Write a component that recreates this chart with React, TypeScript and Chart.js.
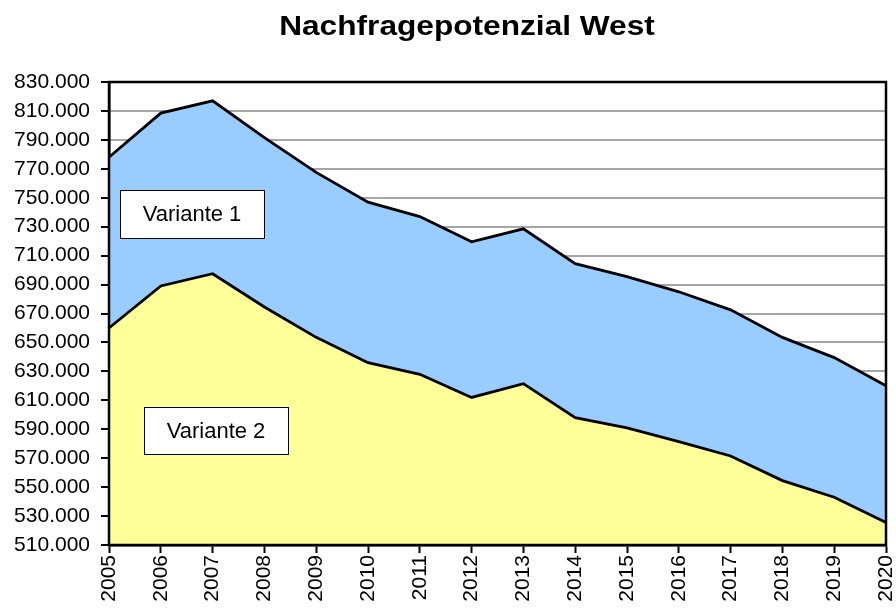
import React, { useEffect, useRef } from "react";
import { Chart, registerables } from "chart.js";

Chart.register(...registerables);

const TITLE = "Nachfragepotenzial West";
const YEARS = ["2005","2006","2007","2008","2009","2010","2011","2012","2013","2014","2015","2016","2017","2018","2019","2020"];
const VARIANTE_1 = [778000, 808500, 817000, 791500, 767500, 747000, 737000, 719500, 728500, 704500, 695500, 685000, 672500, 653500, 639500, 620000];
const VARIANTE_2 = [660000, 689000, 697500, 674500, 653500, 636000, 628000, 612000, 621500, 598000, 591000, 581500, 571500, 554500, 543000, 525500];
const Y_MIN = 510000;
const Y_MAX = 830000;
const Y_STEP = 20000;
const LABEL_1 = "Variante 1";
const LABEL_2 = "Variante 2";

const FONT = "'Liberation Sans', Arial, sans-serif";

function fmt(v: number): string {
  const s = Math.round(v).toString();
  return s.replace(/\B(?=(\d{3})+(?!\d))/g, ".");
}

const decorPlugin = {
  id: "decor",
  afterDatasetsDraw(chart: any) {
    const { ctx, chartArea } = chart;
    ctx.save();
    // frame
    ctx.strokeStyle = "#000";
    ctx.lineWidth = 2.5;
    ctx.strokeRect(chartArea.left, chartArea.top, chartArea.right - chartArea.left, chartArea.bottom - chartArea.top);
    // label boxes
    const boxes = [
      { text: LABEL_1, x: 120, y: 190, w: 144, h: 48 },
      { text: LABEL_2, x: 144, y: 407, w: 144, h: 47 },
    ];
    ctx.font = `22px ${FONT}`;
    ctx.textAlign = "center";
    ctx.textBaseline = "middle";
    for (const b of boxes) {
      ctx.fillStyle = "#fff";
      ctx.fillRect(b.x, b.y, b.w, b.h);
      ctx.strokeStyle = "#000";
      ctx.lineWidth = 1;
      ctx.strokeRect(b.x + 0.5, b.y + 0.5, b.w, b.h);
      ctx.fillStyle = "#000";
      ctx.fillText(b.text, b.x + b.w / 2, b.y + b.h / 2 + 1);
    }
    // title
    ctx.font = `bold 28px ${FONT}`;
    ctx.textAlign = "center";
    ctx.textBaseline = "alphabetic";
    ctx.translate(467, 35);
    ctx.scale(1.13, 1);
    ctx.fillText(TITLE, 0, 0);
    ctx.restore();
  },
};

export default function App() {
  const ref = useRef<HTMLCanvasElement | null>(null);
  useEffect(() => {
    if (!ref.current) return;
    const chart = new Chart(ref.current, {
      type: "line",
      data: {
        labels: YEARS,
        datasets: [
          {
            label: LABEL_1,
            data: VARIANTE_1,
            borderColor: "#000",
            borderWidth: 2.8,
            backgroundColor: "#99CCFF",
            fill: "+1",
            pointRadius: 0,
            tension: 0,
          },
          {
            label: LABEL_2,
            data: VARIANTE_2,
            borderColor: "#000",
            borderWidth: 2.8,
            backgroundColor: "#FFFF99",
            fill: "start",
            pointRadius: 0,
            tension: 0,
          },
        ],
      },
      options: {
        responsive: false,
        animation: false,
        layout: { padding: { top: 82, right: 10, left: 0, bottom: 0 } },
        plugins: {
          legend: { display: false },
          title: { display: false },
          tooltip: { enabled: false },
          filler: { drawTime: "beforeDatasetsDraw" },
        } as any,
        scales: {
          x: {
            offset: false,
            grid: {
              drawOnChartArea: false,
              drawTicks: true,
              tickLength: 8,
              tickColor: "#000",
              tickWidth: 2,
            } as any,
            border: { color: "#000", width: 2.5 },
            ticks: {
              color: "#000",
              font: { family: FONT, size: 21 },
              maxRotation: 90,
              minRotation: 90,
              autoSkip: false,
              padding: 2,
            },
            afterFit(scale: any) {
              scale.height = 65;
              scale.paddingLeft = 0;
              scale.paddingRight = 0;
            },
          },
          y: {
            min: Y_MIN,
            max: Y_MAX,
            grid: {
              color: "#A6A6A6",
              lineWidth: 2,
              drawTicks: true,
              tickLength: 8,
              tickColor: "#000",
              tickWidth: 2,
            } as any,
            border: { color: "#000", width: 2.5 },
            ticks: {
              stepSize: Y_STEP,
              color: "#000",
              font: { family: FONT, size: 21 },
              padding: 11,
              callback: (v: any) => fmt(Number(v)),
            },
            afterFit(scale: any) {
              scale.width = 109;
              scale.paddingTop = 0;
              scale.paddingBottom = 0;
            },
          },
        },
      },
      plugins: [decorPlugin],
    });
    return () => chart.destroy();
  }, []);
  return (
    <div style={{ position: "fixed", left: 0, top: 0, width: 896, height: 610, background: "#fff" }}>
      <canvas ref={ref} width={896} height={610} style={{ display: "block", width: 896, height: 610 }} />
    </div>
  );
}
